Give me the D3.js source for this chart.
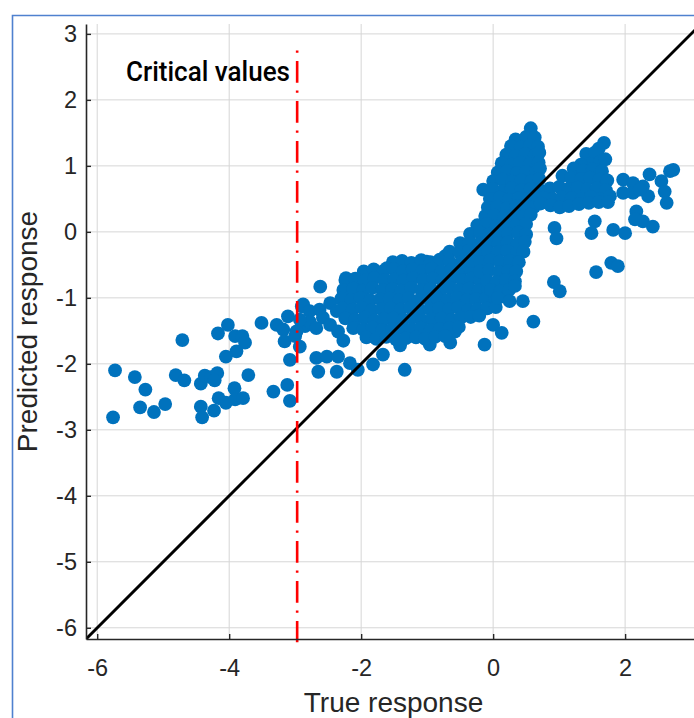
<!DOCTYPE html>
<html>
<head>
<meta charset="utf-8">
<script src="https://cdn.jsdelivr.net/npm/d3@7/dist/d3.min.js"></script>
<style>
  html, body { margin: 0; padding: 0; background: #ffffff; }
  svg { display: block; }
</style>
</head>
<body>
<div id="chart"></div>
<script>
// ---- data (true response, predicted response) ----
const tailPoints = [
  [-5.73,-2.10],[-5.76,-2.81],[-5.43,-2.20],[-5.27,-2.39],[-5.35,-2.66],[-5.14,-2.73],
  [-4.97,-2.61],[-4.71,-1.64],[-4.81,-2.17],[-4.68,-2.25],[-4.43,-2.30],[-4.37,-2.18],
  [-4.28,-2.20],[-4.18,-2.14],[-4.22,-2.25],[-4.43,-2.65],[-4.41,-2.81],[-4.23,-2.71],
  [-4.16,-2.52],[-4.05,-2.59],[-3.92,-2.37],[-3.91,-2.54],[-3.79,-2.52],[-3.71,-2.17],
  [-4.17,-1.54],[-4.02,-1.41],[-3.91,-1.58],[-3.80,-1.58],[-3.76,-1.68],[-3.89,-1.81],
  [-4.05,-1.89],[-3.51,-1.38],[-3.28,-1.41],[-3.18,-1.48],[-3.11,-1.28],[-3.16,-1.66],
  [-3.00,-1.58],[-2.93,-1.74],[-3.08,-1.94],[-3.33,-2.42],[-3.12,-2.32],[-3.08,-2.56],
  [-2.90,-1.13],[-2.85,-1.43]
];

const edgePoints = [
  [-2.62,-0.83],[-2.23,-0.70],[-1.84,-0.62],[-1.61,-0.55],[-2.02,-0.77],[-2.20,-0.90],
  [-0.73,-0.37],[-1.01,-0.45],
  [-2.88,-1.10],[-2.78,-1.20],[-2.63,-1.18],[-2.47,-1.08],[-2.58,-1.30],[-2.78,-1.36],
  [-2.68,-1.46],[-2.47,-1.41],[-2.35,-1.51],[-2.98,-1.51],[-2.93,-1.33],[-2.37,-1.20],
  [-2.68,-1.91],[-2.52,-1.89],[-2.35,-1.89],[-2.65,-2.12],[-2.37,-2.12],[-2.17,-1.99],
  [-2.05,-2.09],[-1.82,-2.01],[-1.34,-2.09],[-1.67,-1.86],[-1.41,-1.72],[-0.96,-1.71],
  [-0.65,-1.68],[-0.58,-1.51],[-0.77,-1.40],[-2.27,-1.65]
];

const clusterPoints = [
  [-1.52,-0.46],[-1.38,-0.44],[-1.24,-0.47],[-1.09,-0.43],[-0.95,-0.46],[-0.81,-0.42],[-0.66,-0.45],
  [-1.96,-0.60],[-1.81,-0.57],[-1.66,-0.59],[-1.51,-0.56],[-1.37,-0.60],[-1.22,-0.57],[-1.07,-0.59],
  [-0.93,-0.56],[-0.78,-0.60],[-0.63,-0.57],[-0.49,-0.59],[-0.35,-0.56],
  [-2.24,-0.73],[-2.09,-0.71],[-1.95,-0.74],[-1.80,-0.70],[-1.65,-0.73],[-1.50,-0.72],[-1.36,-0.74],
  [-1.21,-0.70],[-1.06,-0.73],[-0.91,-0.71],[-0.77,-0.74],[-0.62,-0.70],[-0.47,-0.73],[-0.33,-0.71],[-0.20,-0.74],
  [-2.27,-0.88],[-2.12,-0.86],[-1.97,-0.89],[-1.83,-0.85],[-1.68,-0.88],[-1.53,-0.87],[-1.39,-0.89],
  [-1.24,-0.85],[-1.09,-0.88],[-0.95,-0.86],[-0.80,-0.89],[-0.65,-0.85],[-0.51,-0.88],[-0.36,-0.86],
  [-0.22,-0.89],[-0.08,-0.87],
  [-2.30,-1.01],[-2.15,-1.03],[-2.01,-1.00],[-1.86,-1.04],[-1.71,-1.02],[-1.57,-1.01],[-1.42,-1.03],
  [-1.28,-1.00],[-1.13,-1.04],[-0.98,-1.02],[-0.84,-1.01],[-0.69,-1.03],[-0.55,-1.00],[-0.40,-1.04],
  [-0.26,-1.02],[-0.11,-1.01],[0.03,-1.03],[0.12,-0.98],
  [-2.28,-1.16],[-2.13,-1.18],[-1.99,-1.15],[-1.84,-1.19],[-1.69,-1.17],[-1.55,-1.16],[-1.40,-1.18],
  [-1.26,-1.15],[-1.11,-1.19],[-0.96,-1.17],[-0.82,-1.16],[-0.67,-1.18],[-0.53,-1.15],[-0.38,-1.19],
  [-0.24,-1.17],[-0.09,-1.16],[0.04,-1.14],
  [-2.24,-1.31],[-2.09,-1.33],[-1.95,-1.30],[-1.80,-1.34],[-1.65,-1.32],[-1.51,-1.31],[-1.36,-1.33],
  [-1.22,-1.30],[-1.07,-1.34],[-0.92,-1.32],[-0.78,-1.31],[-0.63,-1.33],[-0.49,-1.30],[-0.34,-1.29],[-0.21,-1.27],
  [-2.12,-1.46],[-1.97,-1.48],[-1.83,-1.45],[-1.68,-1.49],[-1.53,-1.47],[-1.39,-1.46],[-1.24,-1.48],
  [-1.10,-1.45],[-0.95,-1.49],[-0.81,-1.47],[-0.66,-1.46],[-0.52,-1.44],
  [-1.92,-1.60],[-1.77,-1.62],[-1.62,-1.59],[-1.47,-1.63],[-1.32,-1.61],[-1.17,-1.60],[-1.03,-1.62],
  [-0.88,-1.59],[-0.73,-1.58]
];

const spikePoints = [
  [0.57,1.57],
  [0.34,1.40],[0.50,1.44],[0.63,1.43],
  [0.27,1.30],[0.42,1.28],[0.56,1.31],[0.68,1.29],
  [0.20,1.17],[0.34,1.15],[0.49,1.18],[0.63,1.16],[0.70,1.20],
  [0.13,1.04],[0.27,1.02],[0.41,1.05],[0.56,1.03],[0.69,1.05],
  [0.07,0.90],[0.21,0.92],[0.36,0.89],[0.50,0.91],[0.65,0.90],[0.71,0.96],
  [0.00,0.77],[0.14,0.79],[0.29,0.76],[0.43,0.78],[0.58,0.77],[0.70,0.80],
  [-0.15,0.64],[-0.01,0.65],[0.14,0.62],[0.28,0.66],[0.43,0.63],[0.57,0.65],[0.70,0.64],
  [-0.05,0.50],[0.10,0.52],[0.24,0.49],[0.39,0.51],[0.53,0.50],[0.65,0.53],
  [-0.08,0.37],[0.06,0.38],[0.21,0.36],[0.35,0.39],[0.50,0.37],[0.62,0.38],
  [-0.12,0.24],[0.02,0.25],[0.17,0.23],[0.31,0.26],[0.46,0.24],[0.57,0.26],
  [-0.24,0.10],[-0.10,0.12],[0.05,0.09],[0.19,0.11],[0.34,0.10],[0.50,0.12],
  [-0.35,-0.03],[-0.20,-0.01],[-0.06,-0.04],[0.09,-0.02],[0.23,-0.03],[0.38,-0.01],[0.50,-0.04],
  [-0.50,-0.17],[-0.36,-0.16],[-0.21,-0.18],[-0.07,-0.15],[0.08,-0.17],[0.22,-0.16],[0.37,-0.18],[0.48,-0.15],
  [-0.66,-0.30],[-0.51,-0.31],[-0.37,-0.29],[-0.22,-0.32],[-0.08,-0.30],[0.07,-0.31],[0.21,-0.29],[0.36,-0.32],[0.46,-0.30],
  [-0.48,-0.45],[-0.33,-0.44],[-0.19,-0.46],[-0.04,-0.43],[0.10,-0.45],[0.25,-0.44],[0.39,-0.46],
  [-0.20,-0.60],[-0.06,-0.58],[0.09,-0.61],[0.23,-0.59],[0.35,-0.60],
  [-0.09,-0.74],[0.05,-0.76],[0.19,-0.73],[0.33,-0.75],
  [-0.03,-0.88],[0.11,-0.90],[0.24,-0.88],[0.33,-0.82],
  [0.07,-1.00]
];

const rightPoints = [
  [1.68,1.35],[1.60,1.26],[1.41,1.18],[1.54,1.20],
  [1.47,1.03],[1.62,1.06],[1.70,1.10],[1.33,1.02],
  [1.22,0.96],[1.36,0.93],[1.51,0.95],[1.65,0.92],
  [1.05,0.85],[1.18,0.82],[1.33,0.80],[1.47,0.82],[1.61,0.79],[1.73,0.78],
  [0.86,0.66],[1.00,0.68],[1.14,0.65],[1.28,0.67],[1.43,0.64],[1.57,0.66],[1.71,0.63],
  [0.76,0.52],[0.90,0.50],[1.05,0.53],[1.19,0.51],[1.34,0.50],[1.48,0.53],[1.63,0.50],[1.77,0.54],
  [0.72,0.43],[0.87,0.40],[1.01,0.37],[1.15,0.39],[1.30,0.42],[1.45,0.44],[1.60,0.45],[1.74,0.45],
  [1.97,0.79],[2.12,0.74],[2.27,0.69],[2.37,0.87],[2.55,0.77],[2.68,0.92],[2.73,0.94],
  [2.60,0.61],[2.63,0.44],[2.12,0.59],[1.97,0.59],[2.35,0.54],[2.22,0.64],
  [2.17,0.31],[2.27,0.16],[2.42,0.08],[2.15,0.19],[1.82,0.03],[2.00,-0.02],
  [1.54,0.16],[1.49,-0.02],[0.93,0.06],[0.96,-0.10],
  [1.79,-0.47],[1.89,-0.52],[1.56,-0.61],[0.92,-0.76],[1.01,-0.90],
  [0.45,-1.05],[0.61,-1.36],[0.00,-1.41],[0.13,-1.53],[-0.13,-1.71],[0.25,-1.05]
];

const axisLimits = [-6.17, 3.15];
const xTickValues = [-6, -4, -2, 0, 2];
const yTickValues = [-6, -5, -4, -3, -2, -1, 0, 1, 2, 3];
const criticalValue = -2.97;
const criticalSpan = [-6.22, 2.75];
const criticalLabel = "Critical values";
const xLabel = "True response";
const yLabel = "Predicted response";

// ---- layout ----
const W = 694, H = 718;
const margin = { left: 86, top: 24, right: 701, bottom: 639 };

const svg = d3.select("#chart").append("svg")
  .attr("width", W).attr("height", H)
  .attr("viewBox", `0 0 ${W} ${H}`);

svg.append("rect").attr("width", W).attr("height", H).attr("fill", "#ffffff");

// figure frame
svg.append("path")
  .attr("d", `M12.5,${H} V15.5 H${W}`)
  .attr("fill", "none")
  .attr("stroke", "#4F81CF")
  .attr("stroke-width", 1.6);

const x = d3.scaleLinear().domain(axisLimits).range([margin.left, margin.right]);
const y = d3.scaleLinear().domain(axisLimits).range([margin.bottom, margin.top]);

svg.append("defs").append("clipPath").attr("id", "plotClip")
  .append("rect")
  .attr("x", margin.left).attr("y", margin.top)
  .attr("width", margin.right - margin.left)
  .attr("height", margin.bottom - margin.top);

// grid
const grid = svg.append("g").attr("stroke", "#d6d6d6").attr("stroke-width", 1);
grid.selectAll("line.gx").data(xTickValues).join("line")
  .attr("x1", d => x(d)).attr("x2", d => x(d))
  .attr("y1", margin.top).attr("y2", margin.bottom);
grid.selectAll("line.gy").data(yTickValues).join("line")
  .attr("x1", margin.left).attr("x2", margin.right)
  .attr("y1", d => y(d)).attr("y2", d => y(d));

const plot = svg.append("g").attr("clip-path", "url(#plotClip)");

// scatter
const allPoints = tailPoints.concat(edgePoints, clusterPoints, spikePoints, rightPoints);
plot.append("g").attr("fill", "#0072BD")
  .selectAll("circle").data(allPoints).join("circle")
  .attr("cx", d => x(d[0]))
  .attr("cy", d => y(d[1]))
  .attr("r", 6.9);

// identity line
plot.append("line")
  .attr("x1", x(axisLimits[0])).attr("y1", y(axisLimits[0]))
  .attr("x2", x(axisLimits[1])).attr("y2", y(axisLimits[1]))
  .attr("stroke", "#000000").attr("stroke-width", 3);

// critical value marker
svg.append("line")
  .attr("x1", x(criticalValue)).attr("x2", x(criticalValue))
  .attr("y1", y(criticalSpan[1])).attr("y2", y(criticalSpan[0]))
  .attr("stroke", "#FF0000").attr("stroke-width", 2.6)
  .attr("stroke-dasharray", "2.3 8.4 21.6 7.7");

// axes
const axisColor = "#262626";
const yAxis = svg.append("g")
  .attr("transform", `translate(${margin.left},0)`)
  .call(d3.axisLeft(y).tickValues(yTickValues).tickSizeInner(-5).tickSizeOuter(0).tickPadding(9));
const xAxis = svg.append("g")
  .attr("transform", `translate(0,${margin.bottom})`)
  .call(d3.axisBottom(x).tickValues(xTickValues).tickSizeInner(-5).tickSizeOuter(0).tickPadding(20));

[xAxis, yAxis].forEach(a => {
  a.select(".domain").attr("stroke", axisColor).attr("stroke-width", 1.6);
  a.selectAll(".tick line").attr("stroke", axisColor).attr("stroke-width", 1.4);
  a.selectAll(".tick text")
    .attr("fill", axisColor)
    .style("font-family", "'Liberation Sans', Arial, sans-serif")
    .style("font-size", "23.5px");
});
xAxis.selectAll(".tick text").text(d => d3.format("")(d).replace("−", "-"));
yAxis.selectAll(".tick text").text(d => d3.format("")(d).replace("−", "-"));

// axis labels
svg.append("text")
  .attr("x", (margin.left + margin.right) / 2)
  .attr("y", 712)
  .attr("text-anchor", "middle")
  .attr("fill", axisColor)
  .style("font-family", "'Liberation Sans', Arial, sans-serif")
  .style("font-size", "28px")
  .text(xLabel);

svg.append("text")
  .attr("transform", `translate(37,${(margin.top + margin.bottom) / 2}) rotate(-90)`)
  .attr("text-anchor", "middle")
  .attr("fill", axisColor)
  .style("font-family", "'Liberation Sans', Arial, sans-serif")
  .style("font-size", "28px")
  .text(yLabel);

// annotation
svg.append("text")
  .attr("x", 126)
  .attr("y", 81)
  .attr("fill", "#000000")
  .style("font-family", "Roboto, 'DejaVu Sans', sans-serif")
  .style("font-size", "27px")
  .style("font-weight", "500")
  .attr("textLength", 164)
  .attr("lengthAdjust", "spacingAndGlyphs")
  .text(criticalLabel);
</script>
</body>
</html>
